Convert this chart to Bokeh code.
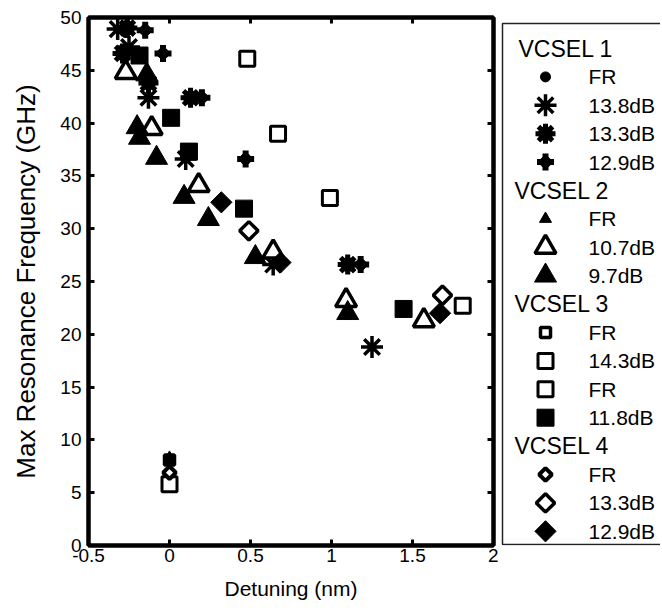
import numpy as np
from bokeh.plotting import figure
from bokeh.layouts import row
from bokeh.models import ColumnDataSource, LinearAxis, Range1d, FixedTicker
from bokeh.core.properties import value
from bokeh.embed import file_html
from bokeh.resources import INLINE

FONT = "Liberation Sans"

# ---------------- data ----------------
x_ticks = [-0.5, 0, 0.5, 1, 1.5, 2]
x_tick_labels = ["-0.5", "0", "0.5", "1", "1.5", "2"]
y_ticks = [0, 5, 10, 15, 20, 25, 30, 35, 40, 45, 50]
y_tick_labels = ["0", "5", "10", "15", "20", "25", "30", "35", "40", "45", "50"]

v1_fr_x = [0.0]
v1_fr_y = [8.0]
v1_138_x = [-0.32, -0.25, -0.13, 0.10, 0.64, 1.25]
v1_138_y = [48.9, 47.2, 42.4, 36.6, 26.6, 18.8]
v1_133_x = [-0.26, -0.29, -0.13, 0.13, 1.10]
v1_133_y = [49.0, 46.6, 43.8, 42.4, 26.6]
v1_129_x = [-0.15, -0.04, 0.20, 0.47, 1.18]
v1_129_y = [48.8, 46.6, 42.4, 36.6, 26.6]

v2_fr_x = [0.0]
v2_fr_y = [8.3]
v2_107_x = [-0.27, -0.11, 0.18, 0.64, 1.09, 1.57]
v2_107_y = [44.8, 39.5, 34.1, 27.8, 23.2, 21.3]
v2_97_x = [-0.14, -0.20, -0.185, -0.08, 0.09, 0.24, 0.53, 1.10]
v2_97_y = [44.6, 39.6, 38.6, 36.7, 33.0, 30.9, 27.3, 22.0]

v3_fr_x = [0.0]
v3_fr_y = [8.1]
v3_143_x = [0.48, 0.67, 0.99, 1.81]
v3_143_y = [46.1, 39.0, 32.9, 22.7]
v3_fr2_x = [0.0]
v3_fr2_y = [5.8]
v3_118_x = [-0.185, 0.01, 0.12, 0.46, 1.445]
v3_118_y = [46.4, 40.5, 37.3, 31.9, 22.4]

v4_fr_x = [0.0]
v4_fr_y = [6.9]
v4_133_x = [0.49, 1.685]
v4_133_y = [29.8, 23.7]
v4_129_x = [0.32, 0.685, 1.67]
v4_129_y = [32.5, 26.8, 22.0]

groups = ["VCSEL 1", "VCSEL 2", "VCSEL 3", "VCSEL 4"]
series = [
    # (group index, label, style, xs, ys)
    (0, "FR", "fr_circle", v1_fr_x, v1_fr_y),
    (0, "13.8dB", "ast", v1_138_x, v1_138_y),
    (0, "13.3dB", "gear", v1_133_x, v1_133_y),
    (0, "12.9dB", "plusblob", v1_129_x, v1_129_y),
    (1, "FR", "tri_small", v2_fr_x, v2_fr_y),
    (1, "10.7dB", "tri_open", v2_107_x, v2_107_y),
    (1, "9.7dB", "tri_fill", v2_97_x, v2_97_y),
    (2, "FR", "sq_small", v3_fr_x, v3_fr_y),
    (2, "14.3dB", "sq_open", v3_143_x, v3_143_y),
    (2, "FR", "sq_open", v3_fr2_x, v3_fr2_y),
    (2, "11.8dB", "sq_fill", v3_118_x, v3_118_y),
    (3, "FR", "dia_small", v4_fr_x, v4_fr_y),
    (3, "13.3dB", "dia_open", v4_133_x, v4_133_y),
    (3, "12.9dB", "dia_fill", v4_129_x, v4_129_y),
]

# ---------------- marker styles ----------------
def draw(fig, src, style):
    k = dict(source=src, x="x", y="y")
    if style == "fr_circle":
        fig.scatter(marker="circle", size=10, fill_color="black", line_color="black", **k)
    elif style == "ast":
        fig.scatter(marker="asterisk", size=22, line_color="black", line_width=3.5, **k)
        fig.scatter(marker="circle", size=8, fill_color="black", line_color="black", **k)
    elif style == "gear":
        fig.scatter(marker="asterisk", size=20, line_color="black", line_width=5, **k)
        fig.scatter(marker="circle", size=14, fill_color="black", line_color="black", **k)
    elif style == "plusblob":
        fig.scatter(marker="cross", size=17, line_color="black", line_width=6, **k)
        fig.scatter(marker="circle", size=11, fill_color="black", line_color="black", **k)
    elif style == "tri_small":
        fig.scatter(marker="triangle", size=12, fill_color="black", line_color="black", line_width=1, **k)
    elif style == "tri_open":
        fig.scatter(marker="triangle", size=21, fill_color="white", line_color="black", line_width=3.5, **k)
    elif style == "tri_fill":
        fig.scatter(marker="triangle", size=22, fill_color="black", line_color="black", line_width=1, **k)
    elif style == "sq_small":
        fig.scatter(marker="square", size=10, fill_color=None, line_color="black", line_width=3.5, **k)
    elif style == "sq_open":
        fig.scatter(marker="square", size=15, fill_color="white", line_color="black", line_width=3, **k)
    elif style == "sq_fill":
        fig.scatter(marker="square", size=17, fill_color="black", line_color="black", line_width=1, **k)
    elif style == "dia_small":
        fig.scatter(marker="square", size=9, angle=np.pi / 4, fill_color="white", line_color="black", line_width=4, **k)
    elif style == "dia_open":
        fig.scatter(marker="square", size=13, angle=np.pi / 4, fill_color="white", line_color="black", line_width=3.5, **k)
    elif style == "dia_fill":
        fig.scatter(marker="square", size=15, angle=np.pi / 4, fill_color="black", line_color="black", line_width=1, **k)

# ---------------- main plot ----------------
FRAME_TOP, FRAME_BOTTOM = 17, 545
p1 = figure(width=498, height=602, x_range=Range1d(-0.5, 2), y_range=Range1d(0, 50),
            output_backend="svg", toolbar_location=None,
            min_border_left=88, min_border_right=5, min_border_top=FRAME_TOP,
            min_border_bottom=602 - FRAME_BOTTOM)
p1.grid.visible = False
p1.outline_line_color = "black"
p1.outline_line_width = 4
p1.background_fill_color = "white"

def style_axis(ax, ticks, labels, show, standoff=4):
    ax.ticker = FixedTicker(ticks=ticks)
    ax.axis_line_width = 4
    ax.axis_line_color = "black"
    ax.major_tick_line_width = 3
    ax.major_tick_in = 6
    ax.major_tick_out = 0
    ax.minor_tick_line_color = None
    if show:
        ax.major_label_overrides = {t: l for t, l in zip(ticks, labels)}
        ax.major_label_text_font = FONT
        ax.major_label_text_font_size = "19px"
        ax.major_label_text_color = "black"
        ax.major_label_standoff = standoff
    else:
        ax.major_label_overrides = {t: "" for t in ticks}
        ax.major_label_text_font_size = "1px"
        ax.major_label_standoff = 0

style_axis(p1.xaxis[0], x_ticks, x_tick_labels, True, 3)
style_axis(p1.yaxis[0], y_ticks, y_tick_labels, True, 7)
p1.xaxis.axis_label = "Detuning (nm)"
p1.yaxis.axis_label = "Max Resonance Frequency (GHz)"
for ax, sz, so in ((p1.xaxis[0], "21px", 12), (p1.yaxis[0], "26px", 16)):
    ax.axis_label_text_font = FONT
    ax.axis_label_text_font_size = sz
    ax.axis_label_text_font_style = "normal"
    ax.axis_label_text_color = "black"
    ax.axis_label_standoff = so

top_ax = LinearAxis()
right_ax = LinearAxis()
style_axis(top_ax, x_ticks, x_tick_labels, False)
style_axis(right_ax, y_ticks, y_tick_labels, False)
p1.add_layout(top_ax, "above")
p1.add_layout(right_ax, "right")

for gi, lab, st, xs, ys in series:
    draw(p1, ColumnDataSource(dict(x=xs, y=ys)), st)

# ---------------- legend panel (coordinates = page pixels) ----------------
LW, LH = 162, 602
p2 = figure(width=LW, height=LH, x_range=Range1d(0, LW),
            y_range=Range1d(FRAME_BOTTOM, FRAME_TOP),
            output_backend="svg", toolbar_location=None,
            x_axis_location=None, y_axis_location=None,
            min_border_left=0, min_border_right=0, min_border_top=FRAME_TOP,
            min_border_bottom=602 - FRAME_BOTTOM)
p2.grid.visible = False
p2.outline_line_color = None

box_left, box_top, box_bottom = 4, 23, 544
p2.line(x=[LW, box_left, box_left, LW], y=[box_top, box_top, box_bottom, box_bottom],
        line_color="#222222", line_width=1.5)

row0, step = 48, 28.4
head_x, mark_x, text_x = 20, 47, 90
rows = []
last_g = -1
for gi, lab, st, xs, ys in series:
    if gi != last_g:
        rows.append(("head", groups[gi], None))
        last_g = gi
    rows.append(("item", lab, st))

hx, hy, hl, tx, ty, tl = [], [], [], [], [], []
for i, (kind, lab, st) in enumerate(rows):
    yy = row0 + i * step
    if kind == "head":
        hx.append(head_x - (4 if i > 0 else 0)); hy.append(yy); hl.append(lab)
    else:
        tx.append(text_x); ty.append(yy); tl.append(lab)
        draw(p2, ColumnDataSource(dict(x=[mark_x], y=[yy])), st)

p2.text(x=hx, y=hy, text=hl, text_font=value(FONT), text_font_size="23px",
        text_baseline="middle", text_align="left", text_color="black")
p2.text(x=tx, y=ty, text=tl, text_font=value(FONT), text_font_size="21px",
        text_baseline="middle", text_align="left", text_color="black")

layout = row(p1, p2)
open("out.html", "w").write(file_html(layout, INLINE))
